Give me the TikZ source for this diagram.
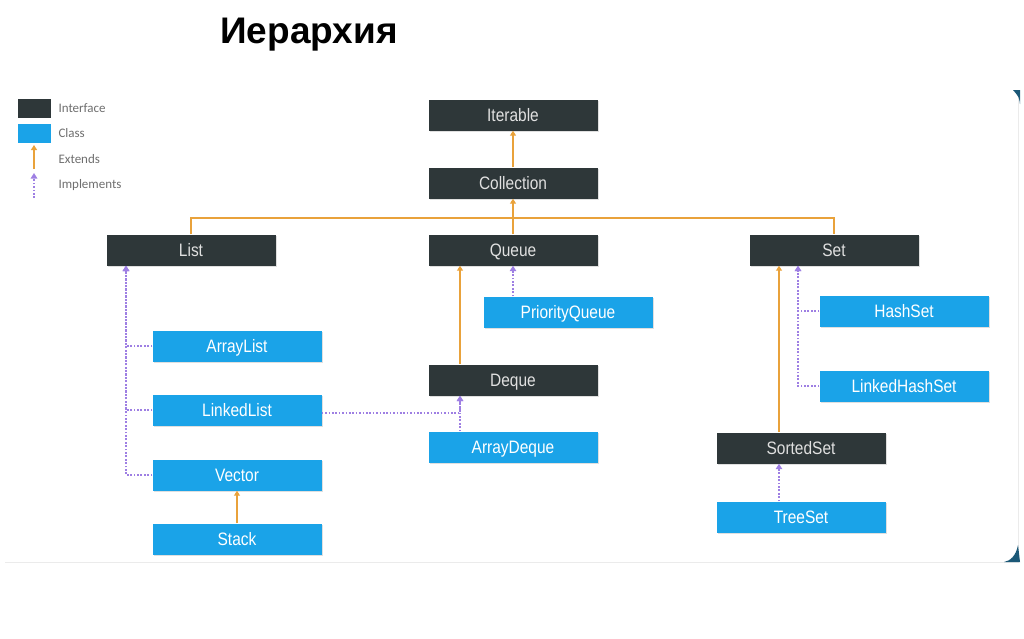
\documentclass[tikz,border=0pt]{standalone}
\usepackage{fontspec}
\setmainfont{Liberation Sans}
\newfontfamily\boxfont[FakeStretch=0.86]{Liberation Sans}
\newfontfamily\legendfont{Carlito}
\usepackage{xcolor}
\usetikzlibrary{arrows.meta, positioning, shadows}
\definecolor{IfaceDark}{HTML}{2E3739}
\definecolor{ClassBlue}{HTML}{1AA3E8}
\definecolor{ExtOrange}{HTML}{E9A23B}
\definecolor{ImplPurple}{HTML}{9E7FE3}
\definecolor{LegendGray}{HTML}{6E6E6E}
\definecolor{CornerTeal}{HTML}{1B5877}

\begin{document}
\begin{tikzpicture}[
    x=1pt, y=-1pt,
    box/.style={
      minimum width=169pt, minimum height=31pt, inner sep=0pt,
      text height=13pt, text depth=0pt,
      font=\boxfont\fontsize{18}{21}\selectfont,
      drop shadow={shadow xshift=1.5pt, shadow yshift=-1.5pt, opacity=0.25}
    },
    iface/.style={box, fill=IfaceDark, text=black!12},
    cls/.style={box, fill=ClassBlue, text=white},
    extline/.style={draw=ExtOrange, line width=1.8pt},
    ext/.style={extline, -{Triangle[width=6pt, length=5pt]}},
    implline/.style={draw=ImplPurple, line width=2pt, dash pattern=on 1.7pt off 1.7pt},
    impl/.style={implline, -{Triangle[width=6.5pt, length=5.5pt]}},
    legtext/.style={anchor=west, text=LegendGray, font=\legendfont\fontsize{13}{15}\selectfont}
  ]
    \useasboundingbox (0,0) rectangle (1024,638);

    % slide frame
    \draw[black!8, line width=0.8pt] (5,562) -- (1018,562) -- (1018,92);
    \fill[CornerTeal] (1018,545) .. controls (1016,556) and (1010,561) .. (1004,562) -- (1020,562) -- cycle;
    \fill[CornerTeal] (1013,90) -- (1020,90) -- (1020,104) .. controls (1019,97) .. (1013,90) -- cycle;

    % title
    \node[font=\bfseries\fontsize{37}{41}\selectfont] (title) at (309,35) {Иерархия};

    % legend
    \node[fill=IfaceDark, minimum width=33pt, minimum height=19pt, inner sep=0pt] (legI) at (34,108) {};
    \node[fill=ClassBlue, minimum width=33pt, minimum height=19pt, inner sep=0pt, below=6pt of legI] (legC) {};
    \coordinate (legE1) at (34,169);
    \coordinate (legE2) at (34,145);
    \coordinate (legM1) at (34,198);
    \coordinate (legM2) at (34,173);
    \draw[ext] (legE1) -- (legE2);
    \draw[impl] (legM1) -- (legM2);
    \node[legtext] (legIt) at (55,108) {Interface};
    \node[legtext] (legCt) at (55,133) {Class};
    \node[legtext] (legEt) at (55,159) {Extends};
    \node[legtext] (legMt) at (55,185) {Implements};

    % interfaces
    \node[iface] (iter) at (513,115) {Iterable};
    \node[iface] (coll) at (513,183) {Collection};
    \node[iface] (list) at (191,250) {List};
    \node[iface] (queue) at (513,250) {Queue};
    \node[iface] (set) at (834,250) {Set};
    \node[iface] (deque) at (513,380) {Deque};
    \node[iface] (sset) at (801,448) {SortedSet};

    % classes
    \node[cls] (alist) at (237,346) {ArrayList};
    \node[cls] (llist) at (237,410) {LinkedList};
    \node[cls] (vector) at (237,475) {Vector};
    \node[cls] (stack) at (237,539) {Stack};
    \node[cls] (pqueue) at (568,312) {PriorityQueue};
    \node[cls] (adeque) at (513,447) {ArrayDeque};
    \node[cls] (hset) at (904,311) {HashSet};
    \node[cls] (lhset) at (904,386) {LinkedHashSet};
    \node[cls] (tset) at (801,517) {TreeSet};

    % extends
    \coordinate (bus) at (513,218);
    \draw[ext] (coll) -- (iter);
    \draw[extline] (list.north) |- (bus) -| (set.north);
    \draw[extline] (queue.north) -- (bus);
    \draw[ext] (bus) -- (coll.south);
    \coordinate (queueL) at ([xshift=-53pt]queue.south);
    \coordinate (dequeL) at ([xshift=-53pt]deque.south);
    \draw[ext] (deque.north -| queueL) -- (queueL);
    \coordinate (setL) at ([xshift=-55pt]set.south);
    \draw[ext] (sset.north -| setL) -- (setL);
    \draw[ext] (stack) -- (vector);

    % implements
    \coordinate (listL) at ([xshift=-65pt]list.south);
    \draw[impl] (vector.west) -| (listL);
    \draw[impl] (llist.west) -| (listL);
    \draw[impl] (alist.west) -| (listL);
    \draw[impl] (pqueue.north -| queue.south) -- (queue.south);
    \draw[impl] (adeque.north -| dequeL) -- (dequeL);
    \draw[impl] ([yshift=-3pt]llist.east) -| (dequeL);
    \coordinate (setM) at ([xshift=-36pt]set.south);
    \draw[impl] (lhset.west) -| (setM);
    \draw[impl] (hset.west) -| (setM);
    \draw[impl] (tset.north -| setL) -- (sset.south -| setL);
  \end{tikzpicture}
\end{document}
